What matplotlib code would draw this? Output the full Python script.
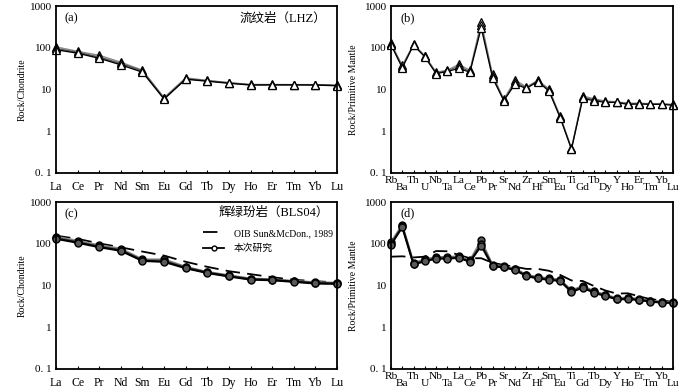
import matplotlib.pyplot as plt
from matplotlib.ticker import FixedLocator, NullLocator

plt.rcParams['font.family'] = ['Liberation Serif', 'Noto Sans CJK SC']
plt.rcParams['axes.unicode_minus'] = False

# element lists
ree = ['La', 'Ce', 'Pr', 'Nd', 'Sm', 'Eu', 'Gd', 'Tb', 'Dy', 'Ho', 'Er', 'Tm', 'Yb', 'Lu']
spider = ['Rb', 'Ba', 'Th', 'U', 'Nb', 'Ta', 'La', 'Ce', 'Pb', 'Pr', 'Sr', 'Nd', 'Zr',
          'Hf', 'Sm', 'Eu', 'Ti', 'Gd', 'Tb', 'Dy', 'Y', 'Ho', 'Er', 'Tm', 'Yb', 'Lu']

# (a) rhyolite LHZ, chondrite normalised
lhz_ree_1 = [105, 82, 66, 45, 29, 6.4, 19.0, 16.5, 14.6, 13.2, 13.2, 13.1, 13.1, 12.7]
lhz_ree_2 = [96, 78, 60, 42, 28, 6.1, 18.2, 16.2, 14.4, 13.0, 13.0, 13.0, 13.0, 12.5]
lhz_ree_3 = [90, 74, 56, 39, 26, 5.9, 17.6, 15.8, 14.1, 12.8, 12.9, 12.9, 12.8, 12.3]

# (b) rhyolite LHZ, primitive mantle normalised
lhz_pm_1 = [128, 38, 122, 65, 26, 29, 40, 29, 420, 23, 5.8, 17, 11.5, 16.5, 10.5, 2.3, 0.40,
            7.0, 6.0, 5.3, 5.1, 4.7, 4.7, 4.6, 4.6, 4.4]
lhz_pm_2 = [122, 35, 118, 62, 25, 28, 36, 27, 350, 21, 5.6, 15, 11.0, 16.0, 9.8, 2.2, 0.38,
            6.5, 5.7, 5.1, 5.0, 4.6, 4.6, 4.5, 4.5, 4.3]
lhz_pm_3 = [118, 33, 116, 60, 24, 27, 32, 26, 300, 19, 5.4, 13.5, 10.6, 15.5, 9.2, 2.1, 0.37,
            6.1, 5.4, 4.9, 4.9, 4.4, 4.5, 4.4, 4.4, 4.2]

# (c) diabase porphyrite BLS04, chondrite normalised
bls_ree_1 = [146, 118, 92, 76, 42, 42, 28, 21, 17.5, 14.6, 14.0, 12.8, 11.9, 11.6]
bls_ree_2 = [138, 110, 86, 71, 40, 39, 27, 20.5, 17.0, 14.2, 13.7, 12.5, 11.5, 11.3]
bls_ree_3 = [132, 106, 83, 68, 39, 37, 26, 20, 16.5, 13.9, 13.4, 12.3, 11.2, 11.0]
oib_ree = [156, 131, 102, 82, 65, 52, 37, 28, 22, 18.7, 15.8, 13.7, 12.7, 11.8]

# (d) diabase porphyrite BLS04, primitive mantle normalised
bls_pm_1 = [110, 280, 35, 42, 48, 48, 50, 40, 120, 31, 29, 25.5, 18, 16, 14.8, 13.8, 7.6,
            9.8, 7.3, 6.0, 5.0, 5.1, 4.8, 4.3, 4.1, 4.0]
bls_pm_2 = [100, 265, 33, 40, 46, 46, 48, 38, 100, 30, 28, 24.5, 17.4, 15.4, 14.2, 13.3, 7.3,
            9.3, 7.0, 5.8, 4.8, 4.9, 4.6, 4.2, 4.0, 3.9]
bls_pm_3 = [95, 250, 32, 38, 44, 44, 46, 37, 90, 29, 27, 23.5, 16.8, 14.8, 13.7, 12.8, 7.0,
            8.9, 6.7, 5.6, 4.7, 4.7, 4.5, 4.1, 3.9, 3.8]
oib_pm = [49, 50, 47, 49, 67, 66, 54, 45, 45, 35, 31, 28, 25, 25, 22.5, 17.9, 13.2,
          12.8, 9.7, 7.6, 6.4, 6.5, 5.5, 4.7, 4.4, 4.05]

fig = plt.figure(figsize=(7, 3.92), dpi=100)
W, H = 700, 392


def make_ax(l, r, t, b):
    return fig.add_axes([l / W, 1 - b / H, (r - l) / W, (b - t) / H])


ax_a = make_ax(56, 337, 6, 173)
ax_b = make_ax(391, 673, 6, 173)
ax_c = make_ax(56, 337, 202, 369)
ax_d = make_ax(391, 673, 202, 369)


def style_ax(ax, names, ylabel, ylab_x, two_rows=False):
    ax.set_yscale('log')
    ax.set_ylim(0.1, 1000)
    ax.set_xlim(0, len(names) - 1)
    ax.yaxis.set_major_locator(FixedLocator([0.1, 1, 10, 100, 1000]))
    ax.yaxis.set_minor_locator(NullLocator())
    ax.set_yticklabels(['0. 1', '1', '10', '100', '1000'], fontsize=8)
    if two_rows:
        # alternate labels on two rows, as in the original figure
        ev = list(range(0, len(names), 2))
        od = list(range(1, len(names), 2))
        ax.set_xticks(ev, [names[i] for i in ev], fontsize=8.2)
        ax.set_xticks(od, [names[i] for i in od], minor=True, fontsize=8.2)
        ax.tick_params(axis='x', which='major', direction='in', length=2.5, width=0.8, pad=2)
        ax.tick_params(axis='x', which='minor', direction='in', length=2.5, width=0.8, pad=7.5)
    else:
        ax.set_xticks(range(len(names)), names, fontsize=8.5)
        ax.tick_params(axis='x', direction='in', length=2.5, width=0.8, pad=5.5)
    ax.tick_params(axis='y', direction='in', length=0, pad=3)
    for s in ax.spines.values():
        s.set_linewidth(1.3)
    ax.set_ylabel(ylabel, fontsize=7)
    ax.yaxis.set_label_coords(ylab_x, 0.5)


tri = dict(marker='^', markersize=5.5, markerfacecolor='white', markeredgecolor='k',
           markeredgewidth=0.9, clip_on=False)
circ = dict(marker='o', markersize=5, markerfacecolor='0.35', markeredgecolor='k',
            markeredgewidth=1.0, clip_on=False)

# (a)
x = range(len(ree))
ax_a.plot(x, lhz_ree_1, color='0.55', lw=1.0, **tri)
ax_a.plot(x, lhz_ree_2, color='0.35', lw=1.0, **tri)
ax_a.plot(x, lhz_ree_3, color='k', lw=1.0, **tri)
style_ax(ax_a, ree, 'Rock/Chondrite', -0.103)
ax_a.text(0.03, 0.96, '(a)', transform=ax_a.transAxes, fontsize=9, va='top')
ax_a.text(0.96, 0.96, '流纹岩（LHZ）', transform=ax_a.transAxes, fontsize=9, va='top', ha='right')

# (b)
x = range(len(spider))
ax_b.plot(x, lhz_pm_1, color='0.55', lw=0.9, **tri)
ax_b.plot(x, lhz_pm_2, color='0.35', lw=0.9, **tri)
ax_b.plot(x, lhz_pm_3, color='k', lw=0.9, **tri)
style_ax(ax_b, spider, 'Rock/Primitive Mantle', -0.117, two_rows=True)
ax_b.text(0.035, 0.96, '(b)', transform=ax_b.transAxes, fontsize=9, va='top')

# (c)
x = range(len(ree))
ax_c.plot(x, oib_ree, color='k', lw=1.3, dashes=(8, 4), label='OIB Sun&McDon., 1989')
ax_c.plot(x, bls_ree_1, color='0.55', lw=1.6, **circ)
ax_c.plot(x, bls_ree_2, color='0.3', lw=1.6, **circ)
ax_c.plot(x, bls_ree_3, color='k', lw=1.6, **circ)
ax_c.plot([], [], color='k', lw=1.3, marker='o', markersize=3.5, markerfacecolor='white',
          markeredgecolor='k', label='本次研究')
style_ax(ax_c, ree, 'Rock/Chondrite', -0.103)
ax_c.text(0.03, 0.96, '(c)', transform=ax_c.transAxes, fontsize=9, va='top')
ax_c.text(0.97, 0.97, '辉绿玢岩（BLS04）', transform=ax_c.transAxes, fontsize=9, va='top', ha='right')
ax_c.legend(loc='upper right', bbox_to_anchor=(1.01, 0.88), frameon=False, fontsize=7,
            handlelength=2.2, handletextpad=1.0, labelspacing=0.6, borderpad=0.2)

# (d)
x = range(len(spider))
ax_d.plot(x, oib_pm, color='k', lw=1.3, dashes=(8, 4))
ax_d.plot(x, bls_pm_1, color='0.55', lw=1.5, **circ)
ax_d.plot(x, bls_pm_2, color='0.3', lw=1.5, **circ)
ax_d.plot(x, bls_pm_3, color='k', lw=1.5, **circ)
style_ax(ax_d, spider, 'Rock/Primitive Mantle', -0.117, two_rows=True)
ax_d.text(0.035, 0.97, '(d)', transform=ax_d.transAxes, fontsize=9, va='top')

fig.savefig('out.png', dpi=100)
